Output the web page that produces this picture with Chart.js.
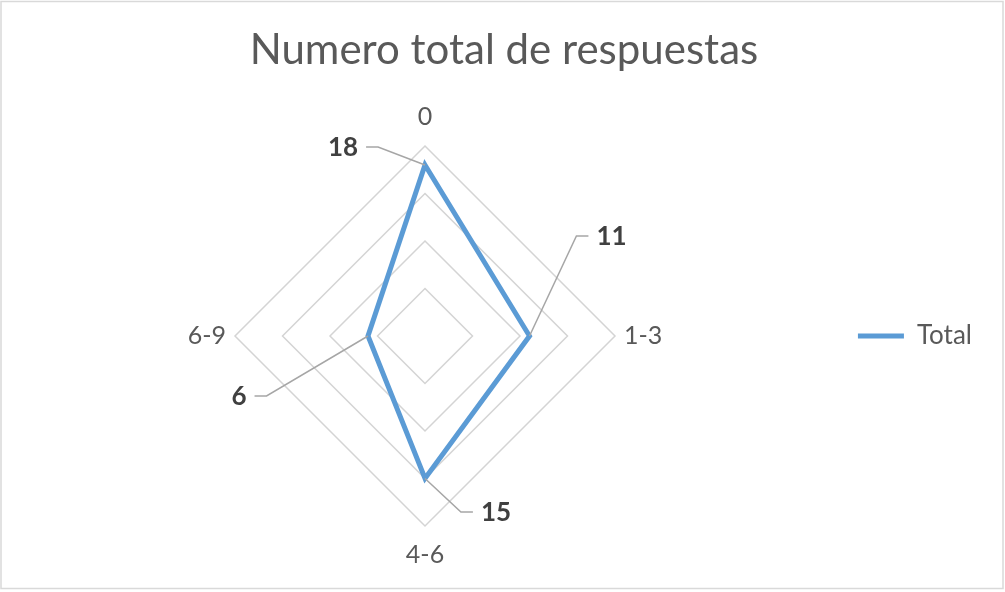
<!DOCTYPE html>
<html>
<head>
<meta charset="utf-8">
<script src="https://cdn.jsdelivr.net/npm/chart.js@4/dist/chart.umd.min.js"></script>
<style>
  html, body { margin: 0; padding: 0; background: #ffffff; }
  #wrap { width: 1005px; height: 592px; }
</style>
</head>
<body>
<div id="wrap"><canvas id="c" width="1005" height="592"></canvas></div>
<script>
// ---- data ----
const chartTitle = 'Numero total de respuestas';
const categories = ['0', '1-3', '4-6', '6-9'];
const seriesName = 'Total';
const totalValues = [18, 11, 15, 6];
const scaleMin = 0;
const scaleMax = 20;
const scaleStep = 5;

// ---- styles ----
const FONT = 'Lato, "Open Sans", "DejaVu Sans", sans-serif';
const lineColor = '#5B9BD5';
const textGray = '#595959';
const gridGray = '#d4d4d4';

// label placement (text centre offset from the point, in px)
const labelOffsets = [
  { dx: -82, dy: -17 },
  { dx: 82, dy: -99 },
  { dx: 71, dy: 34.5 },
  { dx: -129, dy: 61 }
];

const frameBorder = {
  id: 'frameBorder',
  beforeDraw(chart) {
    const ctx = chart.ctx;
    ctx.save();
    ctx.fillStyle = '#ffffff';
    ctx.fillRect(0, 0, chart.width, chart.height);
    ctx.strokeStyle = '#d9d9d9';
    ctx.lineWidth = 1.5;
    ctx.strokeRect(1, 1.5, chart.width - 3, chart.height - 5);
    ctx.restore();
  }
};

const leaderLabels = {
  id: 'leaderLabels',
  afterDatasetsDraw(chart) {
    const ctx = chart.ctx;
    const meta = chart.getDatasetMeta(0);
    const values = chart.data.datasets[0].data;
    ctx.save();
    ctx.font = 'bold 26px ' + FONT;
    ctx.textAlign = 'center';
    ctx.textBaseline = 'middle';
    meta.data.forEach((pt, i) => {
      const off = labelOffsets[i];
      const tx = pt.x + off.dx;
      const ty = pt.y + off.dy;
      const txt = String(values[i]);
      const halfW = ctx.measureText(txt).width / 2;
      const side = off.dx < 0 ? 1 : -1;
      const sx = tx + side * (halfW + 8);
      const ex = sx + side * 12;
      const ly = ty - 1;
      ctx.strokeStyle = '#a6a6a6';
      ctx.lineWidth = 1.5;
      ctx.beginPath();
      ctx.moveTo(sx, ly);
      ctx.lineTo(ex, ly);
      ctx.lineTo(pt.x, pt.y);
      ctx.stroke();
      ctx.fillStyle = '#404040';
      ctx.fillText(txt, tx, ty);
    });
    ctx.restore();
  }
};

new Chart(document.getElementById('c'), {
  type: 'radar',
  data: {
    labels: categories,
    datasets: [{
      label: seriesName,
      data: totalValues,
      borderColor: lineColor,
      backgroundColor: lineColor,
      borderWidth: 5,
      fill: false,
      pointRadius: 0,
      pointHoverRadius: 0,
      tension: 0
    }]
  },
  options: {
    responsive: false,
    animation: false,
    layout: { padding: { left: 26, right: 23, top: 0, bottom: 22 } },
    plugins: {
      title: {
        display: true,
        text: chartTitle,
        color: textGray,
        font: { family: FONT, size: 42, weight: 'normal', lineHeight: 1.2 },
        padding: { top: 25, bottom: 26.6 }
      },
      legend: {
        display: true,
        position: 'right',
        fullSize: false,
        align: 'center',
        labels: {
          color: textGray,
          font: { family: FONT, size: 26 },
          usePointStyle: true,
          pointStyle: 'line',
          pointStyleWidth: 46,
          padding: 33
        }
      },
      tooltip: { enabled: false }
    },
    scales: {
      r: {
        min: scaleMin,
        max: scaleMax,
        ticks: { display: false, stepSize: scaleStep },
        grid: { color: gridGray, lineWidth: 1.5, circular: false },
        angleLines: { display: false },
        pointLabels: {
          color: textGray,
          font: { family: FONT, size: 25, lineHeight: 1.2 },
          padding: (ctx) => (ctx.index % 2 === 0 ? 14 : 9)
        }
      }
    }
  },
  plugins: [frameBorder, leaderLabels]
});
</script>
</body>
</html>
